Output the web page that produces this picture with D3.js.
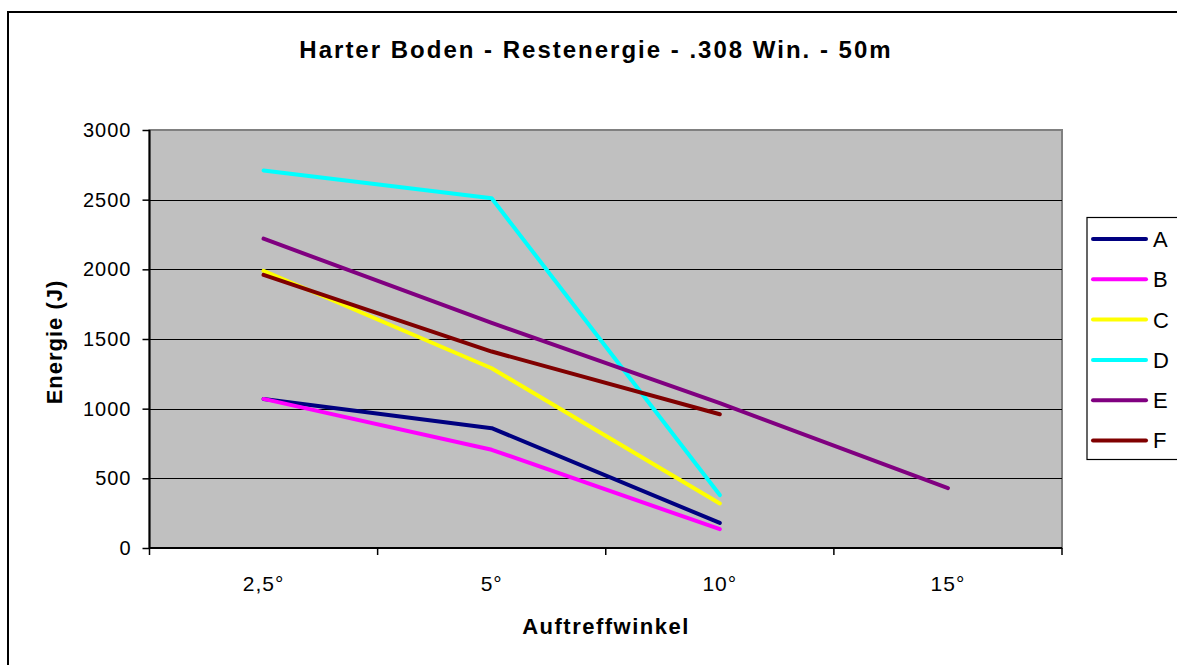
<!DOCTYPE html>
<html>
<head>
<meta charset="utf-8">
<script src="https://cdn.jsdelivr.net/npm/d3@7"></script>
<style>
  html, body { margin: 0; padding: 0; background: #fff; }
  svg { display: block; font-family: "Liberation Sans", Arial, sans-serif; }
</style>
</head>
<body>
<svg id="chart" width="1177" height="665"></svg>
<script>
// Impact angle categories and residual energy (J) per test series
const categories = ["2,5°", "5°", "10°", "15°"];
const seriesNames = ["A", "B", "C", "D", "E", "F"];
const seriesA = [1070, 860, 180, null];
const seriesB = [1070, 705, 135, null];
const seriesC = [1990, 1290, 320, null];
const seriesD = [2710, 2510, 380, null];
const seriesE = [2220, 1615, 1040, 430];
const seriesF = [1960, 1410, 960, null];
const seriesColors = ["#000080", "#FF00FF", "#FFFF00", "#00FFFF", "#800080", "#800000"];
const yTicks = [0, 500, 1000, 1500, 2000, 2500, 3000];

const titleText = "Harter Boden - Restenergie - .308 Win. - 50m";
const xTitle = "Auftreffwinkel";
const yTitle = "Energie (J)";

const allSeries = [seriesA, seriesB, seriesC, seriesD, seriesE, seriesF];

const svg = d3.select("#chart");

// outer chart frame
svg.append("rect")
  .attr("x", 8).attr("y", 12)
  .attr("width", 1200).attr("height", 700)
  .attr("fill", "#fff").attr("stroke", "#000").attr("stroke-width", 2);

const plot = { left: 149.5, right: 1062, top: 130, bottom: 548 };

const x = d3.scaleBand().domain(categories).range([plot.left, plot.right]).padding(0);
const y = d3.scaleLinear().domain([0, 3000]).range([plot.bottom, plot.top]);
const cx = c => x(c) + x.bandwidth() / 2;

// plot background
svg.append("rect")
  .attr("x", plot.left).attr("y", plot.top)
  .attr("width", plot.right - plot.left).attr("height", plot.bottom - plot.top)
  .attr("fill", "#C0C0C0").attr("stroke", "#808080").attr("stroke-width", 2);

// horizontal gridlines
svg.append("g").selectAll("line")
  .data(yTicks.filter(v => v > 0 && v < 3000))
  .join("line")
  .attr("x1", plot.left).attr("x2", plot.right)
  .attr("y1", d => Math.round(y(d)) + 0.5).attr("y2", d => Math.round(y(d)) + 0.5)
  .attr("stroke", "#000").attr("stroke-width", 1.2);

// y axis
const yAxis = svg.append("g")
  .attr("transform", `translate(${plot.left},0)`)
  .call(d3.axisLeft(y).tickValues(yTicks).tickSize(7).tickPadding(11).tickFormat(d3.format("d")));
yAxis.select(".domain").remove();
yAxis.selectAll(".tick line").attr("stroke", "#000").attr("stroke-width", 1.5);
yAxis.selectAll(".tick text")
  .attr("font-size", 20).attr("fill", "#000")
  .attr("font-family", "Liberation Sans, Arial, sans-serif")
  .style("letter-spacing", "1px");
svg.append("line")
  .attr("x1", plot.left).attr("x2", plot.left)
  .attr("y1", plot.top).attr("y2", plot.bottom)
  .attr("stroke", "#000").attr("stroke-width", 2);

// x axis: labels centred in each band, ticks at band edges
const xAxis = svg.append("g")
  .attr("transform", `translate(0,${plot.bottom})`)
  .call(d3.axisBottom(x).tickSize(0).tickPadding(28));
xAxis.select(".domain").remove();
xAxis.selectAll(".tick text")
  .attr("font-size", 21).attr("fill", "#000")
  .attr("font-family", "Liberation Sans, Arial, sans-serif")
  .style("letter-spacing", "1px");
const edges = categories.map(c => x(c)).concat([plot.right]);
svg.append("g").selectAll("line")
  .data(edges)
  .join("line")
  .attr("x1", d => d).attr("x2", d => d)
  .attr("y1", plot.bottom).attr("y2", plot.bottom + 7)
  .attr("stroke", "#000").attr("stroke-width", 1.5);
svg.append("line")
  .attr("x1", plot.left).attr("x2", plot.right)
  .attr("y1", plot.bottom).attr("y2", plot.bottom)
  .attr("stroke", "#000").attr("stroke-width", 2);

// series lines
const line = d3.line()
  .defined(d => d.v != null)
  .x(d => cx(d.c))
  .y(d => y(d.v));
svg.append("g").selectAll("path")
  .data(allSeries)
  .join("path")
  .attr("d", vals => line(vals.map((v, i) => ({ c: categories[i], v }))))
  .attr("fill", "none")
  .attr("stroke", (d, i) => seriesColors[i])
  .attr("stroke-width", 4)
  .attr("stroke-linecap", "round")
  .attr("stroke-linejoin", "round");

// title
svg.append("text")
  .attr("x", 596).attr("y", 58)
  .attr("text-anchor", "middle")
  .attr("font-size", 24).attr("font-weight", "bold")
  .style("letter-spacing", "2px")
  .text(titleText);

// axis titles
svg.append("text")
  .attr("x", 606).attr("y", 634)
  .attr("text-anchor", "middle")
  .attr("font-size", 22).attr("font-weight", "bold")
  .style("letter-spacing", "1.5px")
  .text(xTitle);
svg.append("text")
  .attr("transform", "translate(62,342) rotate(-90)")
  .attr("text-anchor", "middle")
  .attr("font-size", 22).attr("font-weight", "bold")
  .style("letter-spacing", "1px")
  .text(yTitle);

// legend
const legend = svg.append("g");
legend.append("rect")
  .attr("x", 1087).attr("y", 217.5)
  .attr("width", 100).attr("height", 242)
  .attr("fill", "#fff").attr("stroke", "#000").attr("stroke-width", 1.2);
const items = legend.selectAll("g.item")
  .data(seriesNames)
  .join("g")
  .attr("class", "item")
  .attr("transform", (d, i) => `translate(0,${239 + i * 40.3})`);
items.append("line")
  .attr("x1", 1093).attr("x2", 1146)
  .attr("stroke", (d, i) => seriesColors[i])
  .attr("stroke-width", 4)
  .attr("stroke-linecap", "round");
items.append("text")
  .attr("x", 1153).attr("y", 0).attr("dy", "0.36em")
  .attr("font-size", 22)
  .text(d => d);
</script>
</body>
</html>
